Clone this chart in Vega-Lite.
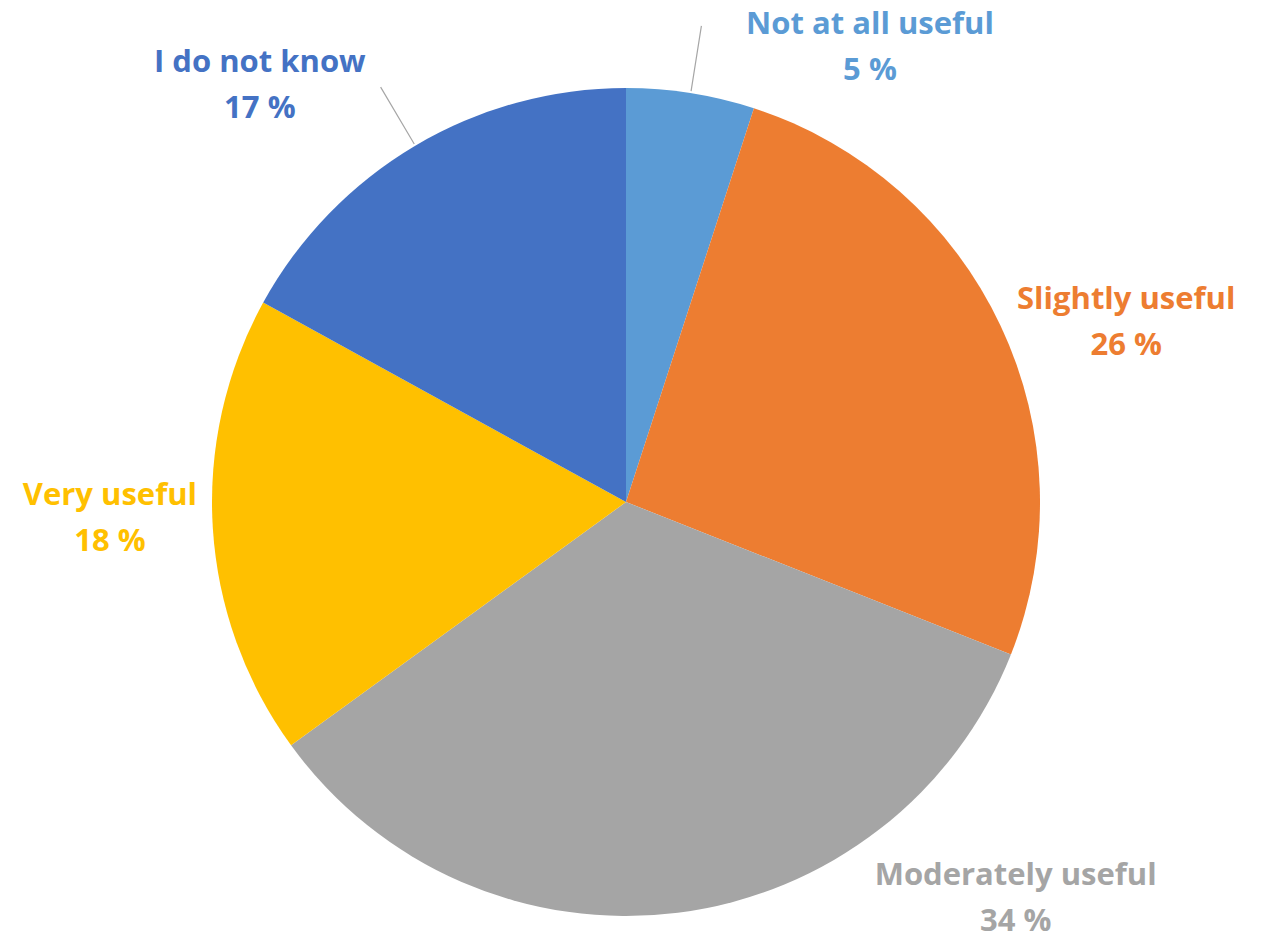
{
  "$schema": "https://vega.github.io/schema/vega-lite/v6.json",
  "width": 1252,
  "height": 880,
  "autosize": "none",
  "padding": {"left": 0, "top": 62, "right": 16, "bottom": 0},
  "background": "white",
  "view": {"stroke": null},
  "data": {
    "values": [
      {"category": "Not at all useful", "value": 5, "order": 1},
      {"category": "Slightly useful", "value": 26, "order": 2},
      {"category": "Moderately useful", "value": 34, "order": 3},
      {"category": "Very useful", "value": 18, "order": 4},
      {"category": "I do not know", "value": 17, "order": 5}
    ]
  },
  "transform": [
    {"calculate": "[datum.category, datum.value + ' %']", "as": "label"}
  ],
  "encoding": {
    "theta": {"field": "value", "type": "quantitative", "stack": true},
    "order": {"field": "order", "type": "quantitative"},
    "color": {
      "field": "category",
      "type": "nominal",
      "legend": null,
      "scale": {
        "domain": ["Not at all useful", "Slightly useful", "Moderately useful", "Very useful", "I do not know"],
        "range": ["#5B9BD5", "#ED7D31", "#A5A5A5", "#FFC000", "#4472C4"]
      }
    }
  },
  "layer": [
    {"mark": {"type": "arc", "radius": 414, "stroke": null}},
    {
      "transform": [
        {"stack": "value", "groupby": [], "sort": [{"field": "order"}], "as": ["v0", "v1"]},
        {"calculate": "(datum.v0 + datum.v1) / 2", "as": "mid"},
        {"filter": "datum.category === 'Not at all useful' || datum.category === 'I do not know'"}
      ],
      "mark": {"type": "arc", "radius": 482, "radius2": 416, "filled": false, "strokeWidth": 1.2},
      "encoding": {
        "theta": {"field": "mid", "type": "quantitative", "stack": null},
        "theta2": {"field": "mid"},
        "color": {"value": "#A6A6A6"}
      }
    },
    {
      "mark": {"type": "text", "radius": 460, "dx": 172, "dy": -14, "font": "Open Sans", "fontWeight": "bold", "fontSize": 31, "lineHeight": 46, "align": "center", "baseline": "alphabetic"},
      "encoding": {"text": {"condition": {"test": "datum.category === 'Not at all useful'", "field": "label"}, "value": ""}}
    },
    {
      "mark": {"type": "text", "radius": 460, "dx": 84, "dy": 3, "font": "Open Sans", "fontWeight": "bold", "fontSize": 31, "lineHeight": 46, "align": "center", "baseline": "alphabetic"},
      "encoding": {"text": {"condition": {"test": "datum.category === 'Slightly useful'", "field": "label"}, "value": ""}}
    },
    {
      "mark": {"type": "text", "radius": 460, "dx": 332, "dy": -73, "font": "Open Sans", "fontWeight": "bold", "fontSize": 31, "lineHeight": 46, "align": "center", "baseline": "alphabetic"},
      "encoding": {"text": {"condition": {"test": "datum.category === 'Moderately useful'", "field": "label"}, "value": ""}}
    },
    {
      "mark": {"type": "text", "radius": 460, "dx": -57, "dy": -26, "font": "Open Sans", "fontWeight": "bold", "fontSize": 31, "lineHeight": 46, "align": "center", "baseline": "alphabetic"},
      "encoding": {"text": {"condition": {"test": "datum.category === 'Very useful'", "field": "label"}, "value": ""}}
    },
    {
      "mark": {"type": "text", "radius": 460, "dx": -132, "dy": -34, "font": "Open Sans", "fontWeight": "bold", "fontSize": 31, "lineHeight": 46, "align": "center", "baseline": "alphabetic"},
      "encoding": {"text": {"condition": {"test": "datum.category === 'I do not know'", "field": "label"}, "value": ""}}
    }
  ]
}
